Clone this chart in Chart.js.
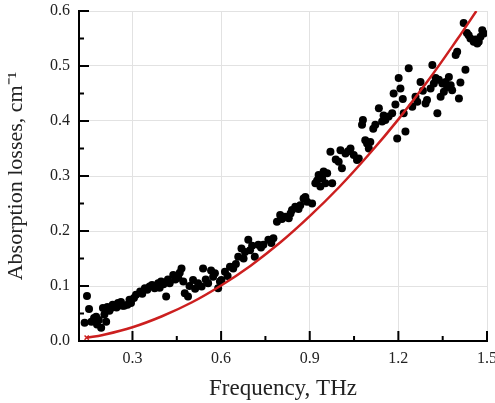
<!DOCTYPE html>
<html>
<head>
<meta charset="utf-8">
<script src="https://cdn.jsdelivr.net/npm/chart.js@4/dist/chart.umd.min.js"></script>
<style>
  html, body { margin: 0; padding: 0; background: #fff; }
  #wrap { width: 495px; height: 403px; }
</style>
</head>
<body>
<div id="wrap"><canvas id="lossChart" width="495" height="403"></canvas></div>
<script>
// Measured points: frequency (THz) and absorption losses (cm^-1)
const freq = [
    0.138, 0.146, 0.153, 0.161, 0.170, 0.177, 0.186, 0.194, 0.200, 0.211,
    0.215, 0.228, 0.240, 0.251, 0.261, 0.272, 0.283, 0.295, 0.312, 0.326,
    0.342, 0.358, 0.375, 0.387, 0.397, 0.414, 0.426, 0.438, 0.455, 0.460,
    0.466, 0.472, 0.477, 0.488, 0.505, 0.522, 0.534, 0.539, 0.556, 0.573,
    0.579, 0.590, 0.601, 0.613, 0.630, 0.641, 0.658, 0.669, 0.681, 0.692,
    0.698, 0.714, 0.726, 0.743, 0.760, 0.777, 0.789, 0.800, 0.817, 0.829,
    0.840, 0.851, 0.868, 0.879, 0.891, 0.908, 0.919, 0.930, 0.936, 0.947,
    0.953, 0.959, 0.970, 0.976, 0.998, 1.004, 1.009, 1.021, 1.038, 1.049,
    1.060, 1.066, 1.077, 1.080, 1.094, 1.100, 1.105, 1.122, 1.134, 1.145,
    1.156, 1.167, 1.179, 1.184, 1.196, 1.201, 1.207, 1.218, 1.224, 1.235,
    1.247, 1.258, 1.264, 1.275, 1.292, 1.297, 1.309, 1.315, 1.326, 1.332,
    1.337, 1.343, 1.349, 1.354, 1.360, 1.365, 1.377, 1.382, 1.394, 1.399,
    1.405, 1.421, 1.427, 1.438, 1.444, 1.455, 1.467, 1.472, 1.478, 1.484,
    1.489,
    0.180, 0.205, 0.222, 0.233, 0.246, 0.266, 0.290, 0.305, 0.333, 0.350,
    0.366, 0.392, 0.405, 0.420, 0.445, 0.493, 0.512, 0.548, 0.566, 0.596,
    0.622, 0.650, 0.676, 0.705, 0.735, 0.770, 0.806, 0.835, 0.862, 0.885,
    0.925, 0.942, 0.988, 1.030, 1.088, 1.115, 1.150, 1.190, 1.215, 1.283,
    1.320, 1.371, 1.410, 1.432, 1.461
];
const loss = [
    0.033, 0.082, 0.058, 0.035, 0.042, 0.044, 0.038, 0.024, 0.060, 0.035,
    0.062, 0.060, 0.063, 0.069, 0.071, 0.064, 0.066, 0.069, 0.084, 0.090,
    0.096, 0.099, 0.096, 0.105, 0.108, 0.081, 0.105, 0.120, 0.115, 0.124,
    0.132, 0.108, 0.087, 0.081, 0.111, 0.105, 0.099, 0.132, 0.105, 0.117,
    0.123, 0.096, 0.111, 0.126, 0.135, 0.132, 0.153, 0.168, 0.162, 0.184,
    0.165, 0.153, 0.175, 0.175, 0.184, 0.187, 0.217, 0.229, 0.226, 0.223,
    0.238, 0.244, 0.247, 0.259, 0.253, 0.250, 0.287, 0.302, 0.281, 0.308,
    0.287, 0.305, 0.344, 0.287, 0.326, 0.347, 0.314, 0.341, 0.350, 0.338,
    0.329, 0.332, 0.393, 0.402, 0.359, 0.350, 0.362, 0.393, 0.423, 0.399,
    0.402, 0.408, 0.414, 0.450, 0.368, 0.478, 0.459, 0.414, 0.381, 0.496,
    0.426, 0.444, 0.435, 0.471, 0.432, 0.438, 0.459, 0.502, 0.478, 0.414,
    0.475, 0.444, 0.468, 0.453, 0.471, 0.462, 0.465, 0.456, 0.520, 0.526,
    0.441, 0.578, 0.493, 0.556, 0.550, 0.544, 0.541, 0.544, 0.553, 0.565,
    0.559,
    0.030, 0.048, 0.055, 0.066, 0.061, 0.064, 0.075, 0.078, 0.086, 0.093,
    0.102, 0.097, 0.103, 0.112, 0.112, 0.100, 0.095, 0.112, 0.128, 0.108,
    0.118, 0.140, 0.150, 0.173, 0.170, 0.178, 0.222, 0.232, 0.240, 0.262,
    0.292, 0.296, 0.330, 0.345, 0.365, 0.386, 0.410, 0.430, 0.440, 0.455,
    0.468, 0.480, 0.470, 0.560, 0.548
];

// Red fitted curve
const fitFreq = [0.145, 0.2, 0.3, 0.4, 0.5, 0.6, 0.7, 0.8, 0.9, 1.0, 1.1, 1.2, 1.3, 1.4, 1.464];
const fitLoss = [0.006, 0.011, 0.025, 0.045, 0.070, 0.101, 0.137, 0.179, 0.227, 0.280, 0.339, 0.403, 0.473, 0.549, 0.600];

const xMajor = [0.3, 0.6, 0.9, 1.2, 1.5];
const xMinor = [0.45, 0.75, 1.05, 1.35];
const yMajor = [0.0, 0.1, 0.2, 0.3, 0.4, 0.5, 0.6];
const yMinor = [0.05, 0.15, 0.25, 0.35, 0.45, 0.55];

const serif = 'Liberation Serif';

// Inward tick marks on the left and bottom axes
const inwardTicks = {
    id: 'inwardTicks',
    afterDraw: (chart) => {
        const {ctx, chartArea, scales} = chart;
        ctx.save();
        ctx.strokeStyle = '#000';
        ctx.lineWidth = 2;
        ctx.beginPath();
        xMajor.forEach(v => {
            const px = scales.x.getPixelForValue(v);
            ctx.moveTo(px, chartArea.bottom);
            ctx.lineTo(px, chartArea.bottom - 10);
        });
        xMinor.forEach(v => {
            const px = scales.x.getPixelForValue(v);
            ctx.moveTo(px, chartArea.bottom);
            ctx.lineTo(px, chartArea.bottom - 5);
        });
        yMajor.forEach(v => {
            const py = scales.y.getPixelForValue(v);
            ctx.moveTo(chartArea.left, py);
            ctx.lineTo(chartArea.left + 10, py);
        });
        yMinor.forEach(v => {
            const py = scales.y.getPixelForValue(v);
            ctx.moveTo(chartArea.left, py);
            ctx.lineTo(chartArea.left + 5, py);
        });
        ctx.stroke();
        ctx.restore();
    }
};

const ctx = document.getElementById('lossChart').getContext('2d');
const lossChart = new Chart(ctx, {
    type: 'scatter',
    data: {
        datasets: [{
            label: 'fit',
            type: 'line',
            data: fitFreq.map((f, i) => ({x: f, y: fitLoss[i]})),
            borderColor: '#cc1f1f',
            borderWidth: 2.5,
            pointRadius: fitFreq.map((f, i) => i === 0 ? 3 : 0),
            pointStyle: 'crossRot',
            pointBorderColor: '#cc1f1f',
            pointBorderWidth: 1.5,
            tension: 0.4,
            fill: false,
            order: 0
        }, {
            label: 'data',
            data: freq.map((f, i) => ({x: f, y: loss[i]})),
            backgroundColor: '#000',
            borderColor: '#000',
            pointRadius: 4,
            borderWidth: 0,
            order: 1
        }]
    },
    options: {
        responsive: false,
        animation: false,
        layout: {
            padding: {top: 11, right: 8, left: 0, bottom: 0}
        },
        plugins: {
            legend: { display: false },
            tooltip: { enabled: false }
        },
        scales: {
            x: {
                type: 'linear',
                min: 0.119,
                max: 1.5,
                afterBuildTicks: (scale) => {
                    scale.ticks = xMajor.map(v => ({value: v}));
                },
                afterFit: (scale) => {
                    scale.height = 62;
                    scale.paddingLeft = 0;
                    scale.paddingRight = 0;
                },
                grid: {
                    color: '#e2e2e2',
                    lineWidth: 1,
                    drawTicks: false
                },
                border: { color: '#000', width: 2 },
                ticks: {
                    font: { family: serif, size: 16 },
                    color: '#222',
                    padding: 8,
                    maxRotation: 0,
                    callback: (v) => v.toFixed(1)
                },
                title: {
                    display: true,
                    text: 'Frequency, THz',
                    font: { family: serif, size: 23 },
                    color: '#222',
                    padding: { top: 0, bottom: 0 }
                }
            },
            y: {
                min: 0,
                max: 0.6,
                afterBuildTicks: (scale) => {
                    scale.ticks = yMajor.map(v => ({value: v}));
                },
                afterFit: (scale) => {
                    scale.width = 79;
                    scale.paddingTop = 0;
                    scale.paddingBottom = 0;
                },
                grid: {
                    color: '#e2e2e2',
                    lineWidth: 1,
                    drawTicks: false
                },
                border: { color: '#000', width: 2 },
                ticks: {
                    font: { family: serif, size: 16 },
                    color: '#222',
                    padding: 9,
                    callback: (v) => v.toFixed(1)
                },
                title: {
                    display: true,
                    text: 'Absorption losses, cm\u207B\u00B9',
                    font: { family: serif, size: 22 },
                    color: '#222',
                    padding: { top: 3, bottom: 0 }
                }
            }
        }
    },
    plugins: [inwardTicks]
});
</script>
</body>
</html>
